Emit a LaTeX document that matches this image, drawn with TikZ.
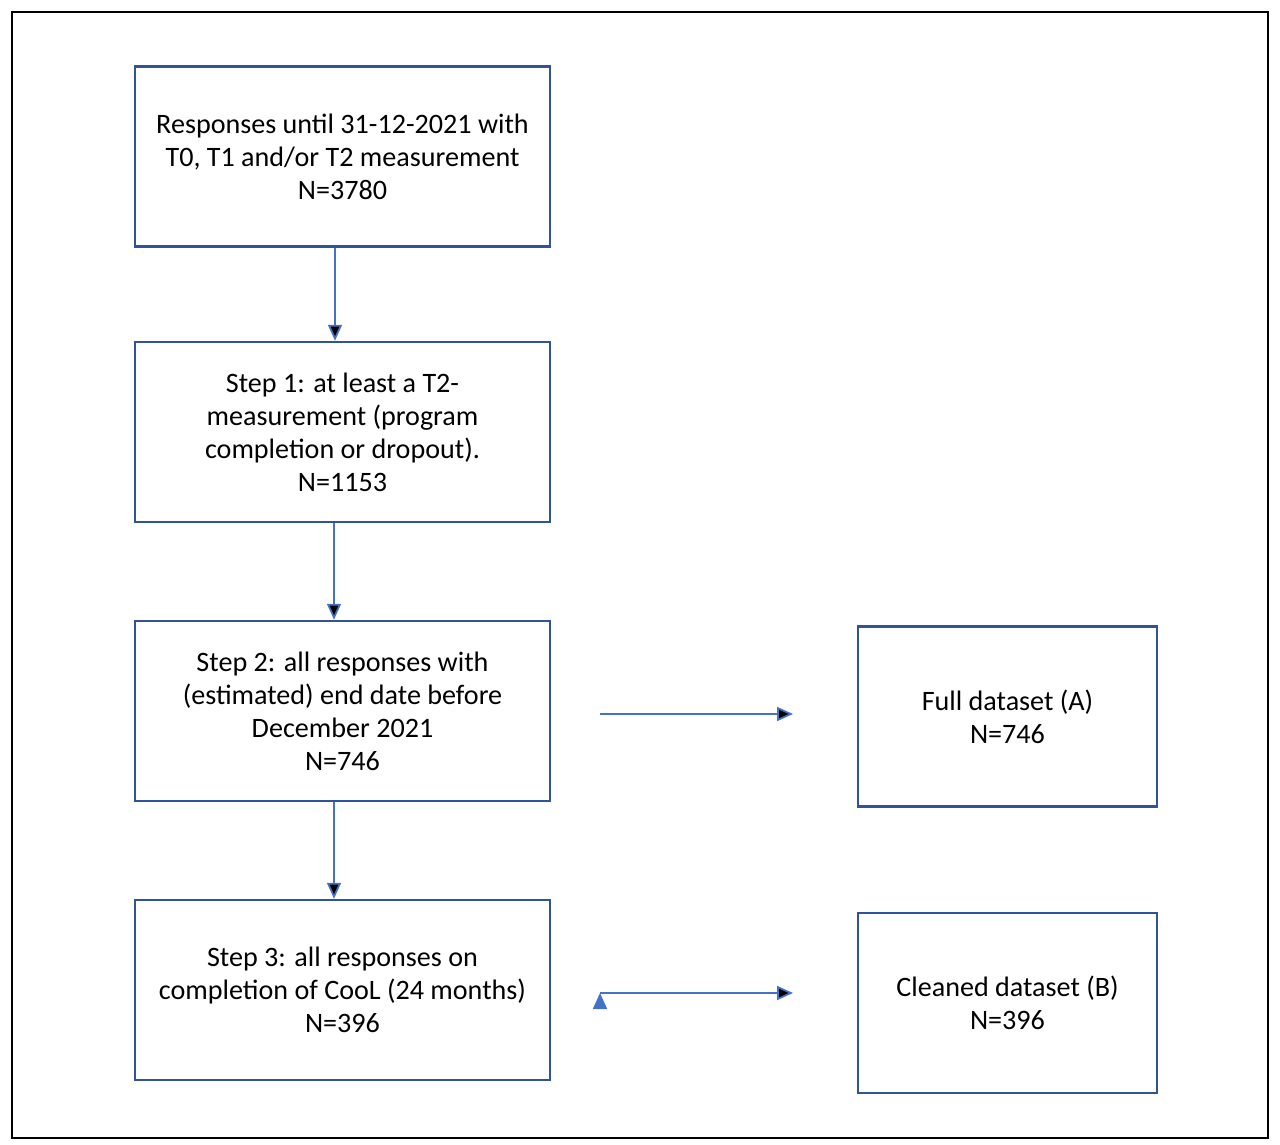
\documentclass[tikz,border=0pt]{standalone}
\usepackage{fontspec}
\setmainfont{Carlito}
\usetikzlibrary{positioning, arrows.meta}
\definecolor{boxblue}{HTML}{2F5597}
\definecolor{arrowblue}{HTML}{4472C4}

\begin{document}
\begin{tikzpicture}[
    x=1mm, y=-1mm,
    every node/.style={font=\fontsize{8}{9.4}\selectfont, align=center},
    stepbox/.style={draw=boxblue, line width=0.7pt, minimum width=41.5mm, minimum height=18mm},
    resultbox/.style={draw=boxblue, line width=0.7pt, minimum width=29.9mm, minimum height=18mm},
    flow/.style={-{Triangle[length=1.6mm, width=1.4mm]}, draw=arrowblue, line width=0.5pt}
]
    \useasboundingbox (0,0) rectangle (128,114.4);
    \draw[line width=0.8pt] (1.2,1.2) rectangle (126.8,113.8);

    % Steps
    \node[stepbox] (responses) at (34.25,15.65) {Responses until 31-12-2021 with\\T0, T1 and/or T2 measurement\\N=3780};
    \node[stepbox] (step1) at (34.25,43.2) {Step 1: at least a T2-\\measurement (program\\completion or dropout).\\N=1153};
    \node[stepbox] (step2) at (34.25,71.1) {Step 2: all responses with\\(estimated) end date before\\December 2021\\N=746};
    \node[stepbox] (step3) at (34.25,99) {Step 3: all responses on\\completion of CooL (24 months)\\N=396};

    % Datasets
    \node[resultbox] (full) at (100.75,71.65) {Full dataset (A)\\N=746};
    \node[resultbox] (cleaned) at (100.75,100.3) {Cleaned dataset (B)\\N=396};

    \coordinate (fullfrom) at (60,71.4);
    \coordinate (fullto) at (79.3,71.4);
    \coordinate (cleanfrom) at (60,99.3);
    \coordinate (cleanto) at (79.3,99.3);

    % Transitions
    \path[flow]
        (responses.south -| 33.5,0) edge (step1.north -| 33.5,0)
        (step1.south -| 33.4,0) edge (step2.north -| 33.4,0)
        (step2.south -| 33.4,0) edge (step3.north -| 33.4,0)
        (fullfrom) edge (fullto)
        (cleanfrom) edge (cleanto);
\end{tikzpicture}
\end{document}
